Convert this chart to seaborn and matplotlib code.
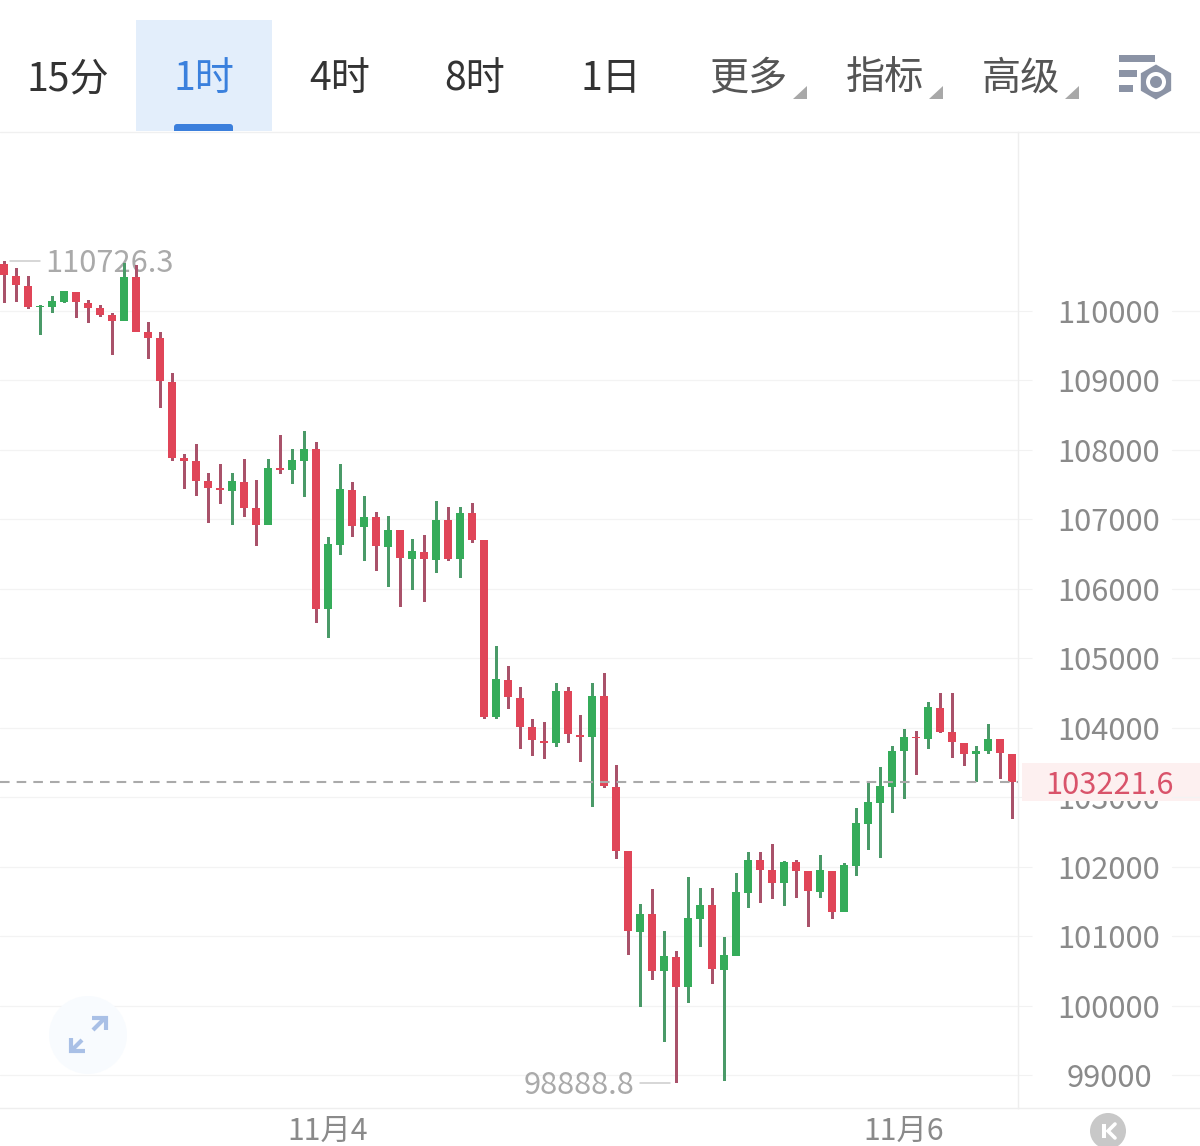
import matplotlib
matplotlib.use("Agg")
import matplotlib.pyplot as plt
from matplotlib.patches import Circle, FancyBboxPatch, Polygon, Rectangle, RegularPolygon
import numpy as np
import pandas as pd
import seaborn as sns

sns.set_theme(style="white")
FONT = ["Noto Sans CJK SC", "DejaVu Sans"]
plt.rcParams["font.family"] = FONT

# ---- candle values ----
high = [110726,110619,110504,110086,110216,110288,110273,110158,110086,109971,110691,110662,109841,109697,109107,107940,108084,107667,107796,107667,107868,107566,107868,108214,108012,108272,108113,106745,107796,107538,107336,107105,107048,106846,106716,106774,107264,107177,107177,107235,106702,105176,104888,104585,104124,104081,104643,104585,104182,104643,104787,103462,102224,101460,101676,101072,100784,101849,101690,101690,100985,101906,102209,102209,102324,102080,102094,101935,102166,101935,102051,102843,103203,103433,103735,103980,103952,104369,104499,104499,103779,103735,104052,103836,103620]
body_top = [110676,110504,110360,110072,110144,110288,110273,110115,110043,109942,110489,110489,109697,109611,108977,107883,107840,107552,107451,107552,107538,107163,107739,107739,107854,108012,108012,106644,107436,107422,107033,107033,106846,106846,106543,106529,106990,106990,107091,107091,106702,104700,104686,104426,104009,103808,104528,104528,103894,104456,104456,103145,102224,101316,101316,100712,100698,101258,101446,101446,100726,101633,102094,102094,101950,102065,102065,101935,101950,101935,102022,102627,102929,103160,103663,103865,103865,104297,104283,103937,103779,103663,103836,103836,103620]
body_bot = [110518,110374,110057,110057,110057,110129,110129,110043,109942,109856,109856,109697,109611,108992,107883,107840,107552,107451,107422,107408,107163,106918,106918,107710,107710,107840,105708,105708,106630,106904,106889,106616,106602,106443,106428,106428,106414,106428,106428,106702,104153,104153,104441,104009,103822,103779,103779,103908,103865,103865,103160,102224,101072,101057,100496,100496,100266,100265,101244,100525,100510,100712,101618,101950,101763,101763,101935,101647,101633,101345,101345,102008,102612,102915,103145,103663,103851,103836,103937,103793,103620,103620,103663,103634,103221.6]
low = [110115,110129,110028,109654,109971,110115,109899,109827,109913,109366,109856,109697,109308,108603,107840,107436,107336,106947,107220,106918,107033,106616,106918,107652,107508,107321,105506,105290,106486,106745,106399,106256,106025,105737,105982,105809,106227,106399,106155,106659,104124,104124,104268,103692,103592,103549,103721,103779,103505,102857,103131,102108,100726,99977,100366,99473,98888.8,100035,100841,100309,98917,100712,101402,101475,101533,101431,101547,101129,101547,101244,101345,101864,102238,102123,102771,102972,103318,103692,103923,103563,103448,103217,103620,103260,102684]
rising = [0,0,0,1,1,1,0,0,0,0,1,0,0,0,0,0,0,0,0,1,0,0,1,0,1,1,0,1,1,0,1,0,1,0,1,0,1,0,1,0,0,1,0,0,0,0,1,0,0,1,0,0,0,1,0,1,0,1,1,0,1,1,1,0,0,1,0,0,1,0,1,1,1,1,1,1,0,1,0,0,0,1,1,0,0]

price_ticks = [110000,109000,108000,107000,106000,105000,104000,103000,102000,101000,100000,99000]
date_positions = [27, 75]
date_labels = ["11月4", "11月6"]
peak_label = "110726.3"
peak_value = 110726.3
trough_label = "98888.8"
trough_value = 98888.8
last_label = "103221.6"
last_value = 103221.6
tabs = ["15分", "1时", "4时", "8时", "1日", "更多", "指标", "高级"]

RED, GREEN = "#e04558", "#35ac5a"
RED_W, GREEN_W = "#a9526a", "#4a9a68"
W, H = 1200, 1146
LABEL_SIZE = 22.2

df = pd.DataFrame(dict(i=np.arange(len(high)), high=high, low=low, top=body_top, bot=body_bot, up=rising))
df["wick"] = df.high - df.low
df["body"] = df.top - df.bot

fig = plt.figure(figsize=(W / 100, H / 100), dpi=100, facecolor="white")
ax = fig.add_axes([0, (H - 1108) / H, 1018 / W, (1108 - 132) / H])

for flag, wc, bc in ((0, RED_W, RED), (1, GREEN_W, GREEN)):
    s = df[df.up == flag]
    sns.barplot(data=s, x="i", y="wick", bottom=s.low.values, native_scale=True, width=3.0 / 12,
                color=wc, saturation=1, errorbar=None, linewidth=0, zorder=3, ax=ax)
    sns.barplot(data=s, x="i", y="body", bottom=s.bot.values, native_scale=True, width=8 / 12,
                color=bc, saturation=1, errorbar=None, linewidth=0, zorder=4, ax=ax)

ax.set_xlim(-1 / 3, 84.5)
ax.set_ylim(110000 - (1108 - 311) * 14.398, 110000 + (311 - 132) * 14.398)
ax.set_xlabel("")
ax.set_ylabel("")
ax.set_facecolor("white")

ax.yaxis.tick_right()
ax.set_yticks(price_ticks)
ax.set_yticklabels([str(v) for v in price_ticks])
ax.tick_params(axis="y", length=10, width=0.8, color="#f2f2f2", pad=55.5, labelsize=LABEL_SIZE, labelcolor="#8a8a8a", right=True)
for lab in ax.get_yticklabels():
    lab.set_ha("center")
ax.set_xticks(date_positions)
ax.set_xticklabels(date_labels)
ax.tick_params(axis="x", length=0, pad=5.5, labelsize=21.8, labelcolor="#8a8a8a")
ax.grid(axis="y", color="#f3f3f3", lw=0.9, zorder=0)
ax.grid(axis="x", visible=False)
ax.set_axisbelow(True)
for side in ("top", "left"):
    ax.spines[side].set_visible(False)
for side in ("right", "bottom"):
    ax.spines[side].set_color("#eeeeee")
    ax.spines[side].set_linewidth(1.0)

# last price, extreme labels
ax.axhline(last_value, color="#aaaaaa", lw=1.5, dashes=(4.6, 3.4), zorder=5)
ax.plot([0.5, 3], [peak_value, peak_value], color="#cccccc", lw=1.1, zorder=1)
ax.plot([53, 55.5], [trough_value, trough_value], color="#cccccc", lw=1.1, zorder=1)
ax.annotate(peak_label, xy=(0, peak_value), xytext=(41, -3), textcoords="offset pixels",
            ha="left", va="center", fontsize=LABEL_SIZE, color="#aaaaaa", zorder=2)
ax.annotate(trough_label, xy=(56, trough_value), xytext=(-42, -3), textcoords="offset pixels",
            ha="right", va="center", fontsize=LABEL_SIZE, color="#aaaaaa", zorder=2)

# ---- interface chrome, in pixel coordinates ----
ui = fig.add_axes([0, 0, 1, 1], zorder=10)
ui.set_xlim(0, W)
ui.set_ylim(H, 0)
ui.axis("off")
ui.patch.set_alpha(0)

ui.add_patch(Rectangle((136, 20), 136, 111, color="#e3eefb", lw=0))
pill = FancyBboxPatch((177, 127), 53, 10, boxstyle="round,pad=3", color="#3b7fdc", lw=0)
ui.add_patch(pill)
pill.set_clip_path(Rectangle((136, 20), 136, 111, transform=ui.transData))
ui.plot([0, W], [131.5, 131.5], color="#f0f0f0", lw=1)
ui.plot([1018, W], [1108, 1108], color="#eeeeee", lw=1)
for v in price_ticks:
    py = 311 + (110000 - v) * 0.069454
    ui.plot([1172, W], [py, py], color="#f3f3f3", lw=0.9)

centers = [68, 204, 340, 475, 611, 748, 885, 1021]
colors = ["#333333", "#3a80dd", "#333333", "#333333", "#333333", "#555555", "#555555", "#555555"]
for t, cx, c in zip(tabs, centers, colors):
    ui.text(cx, 79, t, ha="center", va="center", fontsize=28.2, color=c)
for tx in (807, 943, 1079):
    ui.add_patch(Polygon([(tx, 86), (tx, 99), (tx - 14, 99)], closed=True, color="#a8a8a8", lw=0))

# settings icon
grey = "#8b93a5"
for x0, x1, y0 in ((1119, 1155, 55), (1119, 1137, 70), (1119, 1133, 85)):
    ui.add_patch(Rectangle((x0, y0), x1 - x0, 7, color=grey, lw=0))
ui.add_patch(RegularPolygon((1156, 82), 6, radius=17.5, color=grey, lw=0))
ui.add_patch(Circle((1156, 82), 10, color="white", lw=0))
ui.add_patch(Circle((1156, 82), 6, color=grey, lw=0))

# last price tag
ui.add_patch(Rectangle((1022, 763), 178, 38, color="#fdf0f0", lw=0))
ui.text(1109, 785, last_label, ha="center", va="center", fontsize=LABEL_SIZE, color="#d9536a")

# expand button
ui.add_patch(Circle((88, 1035), 39, color="#f8fbfe", lw=0, zorder=1))
arrow = "#a9c0e6"
for xs, ys in (([93, 105], [1030, 1018]), ([92, 106, 106], [1018, 1018, 1030]),
               ([82, 71], [1040, 1051]), ([71, 71, 85], [1038, 1051, 1051])):
    ui.plot(xs, ys, color=arrow, lw=3, solid_capstyle="butt", solid_joinstyle="miter", zorder=2)

# collapse button
ui.add_patch(Circle((1108, 1131), 18, color="#c8c8c8", lw=0))
ui.add_patch(Rectangle((1102, 1124), 3.5, 14, color="white", lw=0))
ui.plot([1115, 1108, 1115], [1124, 1131, 1138], color="white", lw=2.6, solid_joinstyle="miter")

fig.savefig("out.png", dpi=100, facecolor="white")
